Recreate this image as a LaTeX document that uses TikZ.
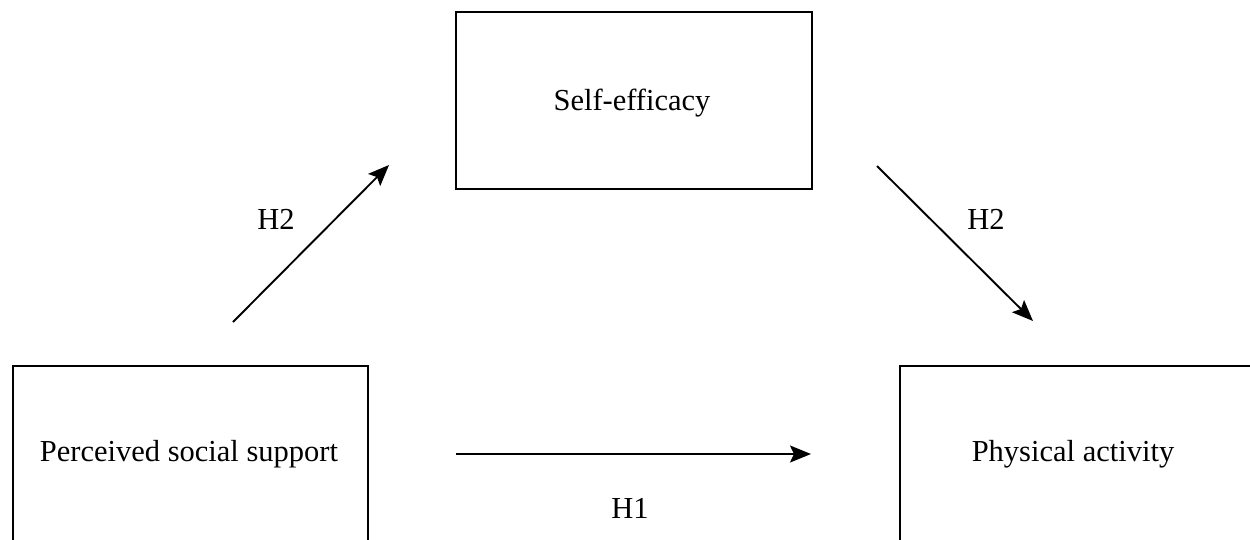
\documentclass[tikz,border=0pt]{standalone}
\usepackage{fontspec}
\setmainfont{Liberation Serif}
\usetikzlibrary{arrows.meta}
\begin{document}
\begin{tikzpicture}[x=1pt,y=-1pt,
  box/.style={draw=black,line width=2pt,rectangle,inner sep=0pt,anchor=north west},
  lbl/.style={inner sep=0pt,anchor=base,font=\fontsize{30.5}{36}\selectfont},
  arr/.style={line width=1.9pt,-{Stealth[length=21pt,width=17pt,inset=4pt]}}]
\clip (0,0) rectangle (1250,539);
% boxes
\node[box,minimum width=356pt,minimum height=177pt] (se) at (455,11) {};
\node[box,minimum width=355pt,minimum height=190pt] (ps) at (12,365) {};
\node[box,minimum width=370pt,minimum height=190pt] (pa) at (899,365) {};
% box texts
\node[lbl] (set) at (632,110) {Self-efficacy};
\node[lbl] (pst) at (189,461) {Perceived social support};
\node[lbl] (pat) at (1073,461) {Physical activity};
% arrow end points
\coordinate (a1s) at (233,322);
\coordinate (a1e) at (389,165);
\coordinate (a2s) at (877,166);
\coordinate (a2e) at (1033,321);
\coordinate (a3s) at (456,454);
\coordinate (a3e) at (811,454);
\draw[arr] (a1s) -- (a1e);
\draw[arr] (a2s) -- (a2e);
\draw[arr] (a3s) -- (a3e);
% labels
\node[lbl] (h2a) at (276,229) {H2};
\node[lbl] (h2b) at (986,229) {H2};
\node[lbl] (h1) at (630,518) {H1};
\end{tikzpicture}
\end{document}
